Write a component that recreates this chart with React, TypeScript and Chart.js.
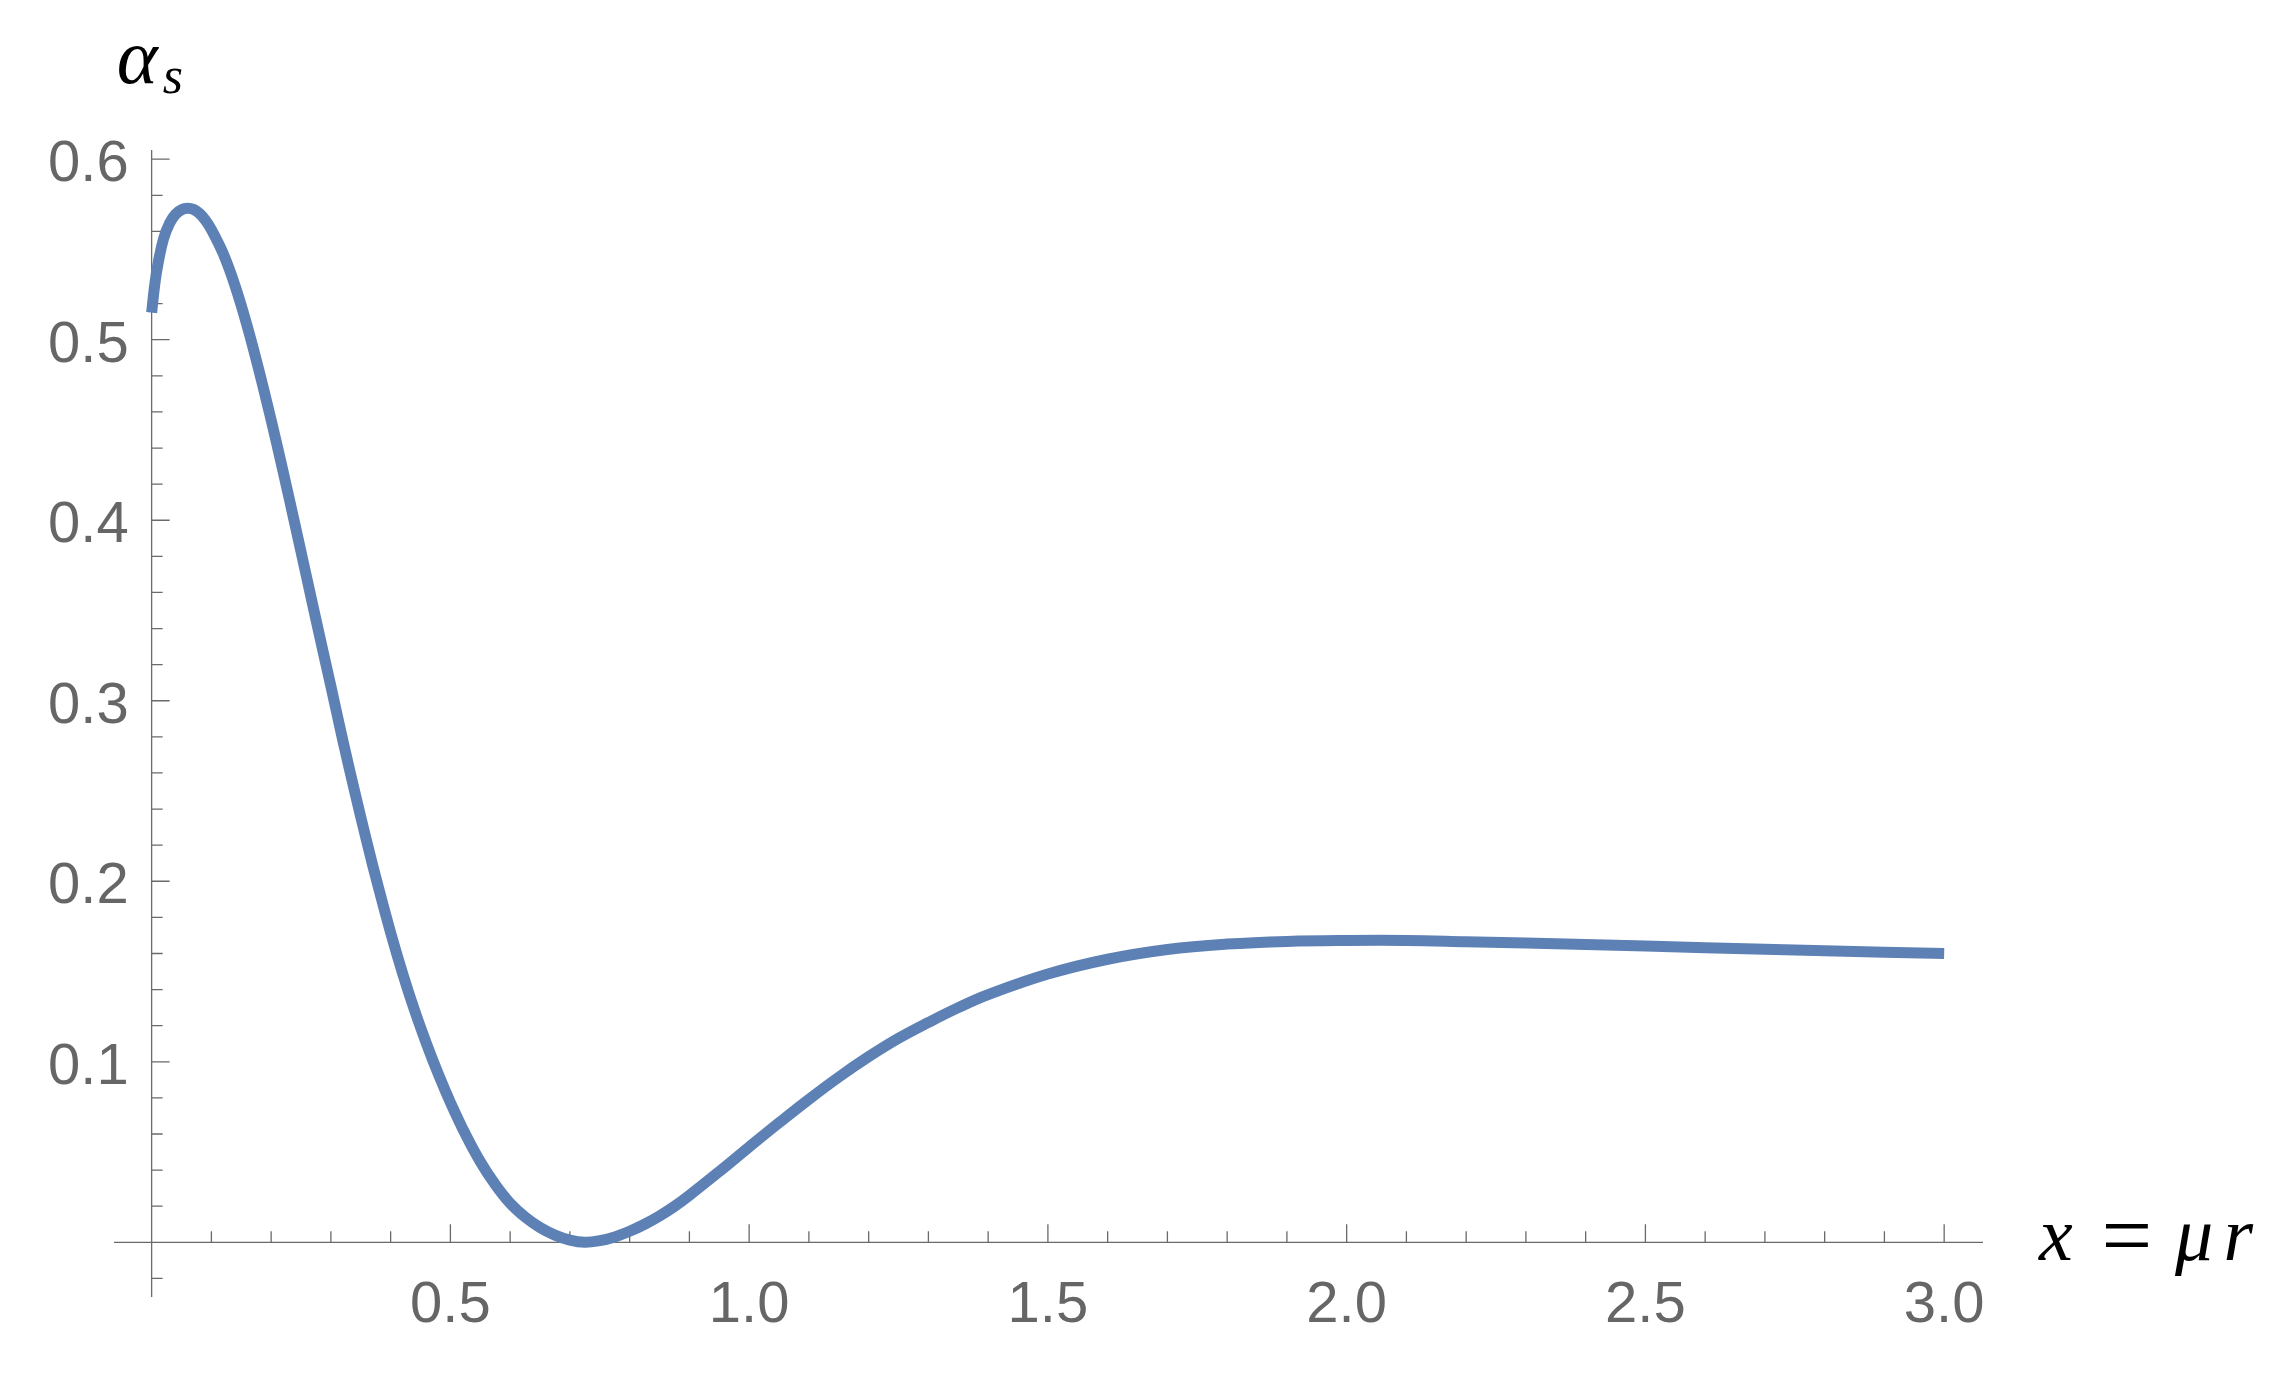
import { useEffect, useRef } from 'react';
import { Chart, registerables } from 'chart.js';

Chart.register(...registerables);

// ---- data ----
const xValues = [
  0, 0.005, 0.01, 0.02, 0.03, 0.04, 0.05, 0.06, 0.07, 0.08, 0.09, 0.1,
  0.12, 0.14, 0.16, 0.18, 0.2, 0.22, 0.24, 0.26, 0.28, 0.3,
  0.32, 0.34, 0.36, 0.38, 0.4, 0.42, 0.44, 0.46, 0.48, 0.5,
  0.525, 0.55, 0.575, 0.6, 0.625, 0.65, 0.675, 0.7, 0.725, 0.75,
  0.775, 0.8, 0.825, 0.85, 0.875, 0.9, 0.95, 1.0, 1.05, 1.1, 1.15, 1.2, 1.25, 1.3, 1.35, 1.4,
  1.5, 1.6, 1.7, 1.8, 1.9, 2.0, 2.1, 2.2, 2.4, 2.6, 2.8, 3.0,
];
const alphaS = [
  0.515, 0.530, 0.541, 0.556, 0.5645, 0.5695, 0.572, 0.5728, 0.5722, 0.570, 0.5662, 0.561,
  0.5475, 0.5295, 0.5075, 0.4825, 0.4555, 0.427, 0.3975, 0.3675, 0.3375, 0.308,
  0.278, 0.2495, 0.222, 0.196, 0.1715, 0.149, 0.1285, 0.11, 0.093, 0.0775,
  0.060, 0.0447, 0.032, 0.0216, 0.014, 0.0082, 0.004, 0.0012, 0.0, 0.0009,
  0.003, 0.0061, 0.010, 0.0146, 0.0199, 0.026, 0.0392, 0.0528, 0.0662, 0.0792, 0.0915, 0.1028, 0.113, 0.1218, 0.13, 0.1372,
  0.1486, 0.1568, 0.1622, 0.1652, 0.1667, 0.1672, 0.1672, 0.1665, 0.165, 0.1632, 0.1615, 0.16,
];
const xTickValues = [0.5, 1.0, 1.5, 2.0, 2.5, 3.0];
const xTickLabels = ['0.5', '1.0', '1.5', '2.0', '2.5', '3.0'];
const yTickValues = [0.1, 0.2, 0.3, 0.4, 0.5, 0.6];
const yTickLabels = ['0.1', '0.2', '0.3', '0.4', '0.5', '0.6'];
const xMinorStep = 0.1;
const yMinorStep = 0.02;

const X_MIN = -0.063;
const X_MAX = 3.065;
const Y_MIN = -0.0303;
const Y_MAX = 0.6051;

const LINE_COLOR = '#5E81B5';
const AXIS_COLOR = '#6a6a6a';
const TICK_TEXT = '#666666';
const SERIF = '"Liberation Serif", "DejaVu Serif", serif';

const axesPlugin = {
  id: 'mmaAxes',
  beforeDatasetsDraw(chart: any) {
    const ctx = chart.ctx as CanvasRenderingContext2D;
    const xs = chart.scales.x;
    const ys = chart.scales.y;
    const { left, right, top, bottom } = chart.chartArea;
    const x0 = xs.getPixelForValue(0);
    const y0 = ys.getPixelForValue(0);
    ctx.save();
    ctx.strokeStyle = AXIS_COLOR;
    ctx.lineWidth = 1.3;
    ctx.beginPath();
    ctx.moveTo(left, y0);
    ctx.lineTo(right, y0);
    ctx.moveTo(x0, top);
    ctx.lineTo(x0, bottom);
    ctx.stroke();

    // x ticks
    ctx.beginPath();
    for (let i = 1; i * xMinorStep <= X_MAX + 1e-9; i++) {
      const v = i * xMinorStep;
      const px = xs.getPixelForValue(v);
      const len = i % 5 === 0 ? 18 : 11;
      ctx.moveTo(px, y0);
      ctx.lineTo(px, y0 - len);
    }
    // y ticks
    for (let i = Math.ceil(Y_MIN / yMinorStep); i * yMinorStep <= Y_MAX + 1e-9; i++) {
      if (i === 0) continue;
      const v = i * yMinorStep;
      const py = ys.getPixelForValue(v);
      const len = i % 5 === 0 ? 18 : 11;
      ctx.moveTo(x0, py);
      ctx.lineTo(x0 + len, py);
    }
    ctx.stroke();

    // tick labels
    ctx.fillStyle = TICK_TEXT;
    ctx.font = '58px "Liberation Sans", Arial, sans-serif';
    ctx.textBaseline = 'alphabetic';
    ctx.textAlign = 'center';
    xTickValues.forEach((v, k) => {
      ctx.fillText(xTickLabels[k], xs.getPixelForValue(v), y0 + 80);
    });
    ctx.textAlign = 'right';
    yTickValues.forEach((v, k) => {
      ctx.fillText(yTickLabels[k], x0 - 23, ys.getPixelForValue(v) + 22);
    });

    // axis labels
    ctx.fillStyle = '#000000';
    ctx.textAlign = 'left';
    ctx.font = `italic 78px ${SERIF}`;
    ctx.fillText('α', x0 - 35, 83);
    ctx.font = `italic 52px ${SERIF}`;
    ctx.fillText('s', x0 + 11, 93);

    const lx = right + 56;
    const base = y0 + 18;
    ctx.font = `italic 76px ${SERIF}`;
    ctx.fillText('x', lx, base);
    ctx.font = `90px ${SERIF}`;
    ctx.textAlign = 'center';
    ctx.fillText('=', lx + 88, y0 + 24);
    ctx.textAlign = 'left';
    ctx.font = `italic 76px ${SERIF}`;
    ctx.fillText('μ', lx + 136, base);
    ctx.textAlign = 'right';
    ctx.fillText('r', lx + 214, base);
    ctx.restore();
  },
};

export default function App() {
  const canvasRef = useRef<HTMLCanvasElement | null>(null);

  useEffect(() => {
    const canvas = canvasRef.current;
    if (!canvas) return;
    const points = xValues.map((x, i) => ({ x, y: alphaS[i] }));
    const chart = new Chart(canvas, {
      type: 'line',
      data: {
        datasets: [
          {
            data: points,
            borderColor: LINE_COLOR,
            borderWidth: 11,
            pointRadius: 0,
            fill: false,
            tension: 0.4,
            borderCapStyle: 'butt',
            borderJoinStyle: 'round',
            clip: false as any,
          },
        ],
      },
      options: {
        animation: false,
        responsive: false,
        devicePixelRatio: 1,
        layout: { padding: { left: 114, right: 297, top: 150, bottom: 81 } },
        plugins: { legend: { display: false }, tooltip: { enabled: false } },
        events: [],
        scales: {
          x: { type: 'linear', min: X_MIN, max: X_MAX, display: false },
          y: { type: 'linear', min: Y_MIN, max: Y_MAX, display: false },
        },
      },
      plugins: [axesPlugin],
    });
    return () => chart.destroy();
  }, []);

  return (
    <div style={{ position: 'fixed', left: 0, top: 0, width: 2280, height: 1378, background: '#ffffff' }}>
      <canvas ref={canvasRef} width={2280} height={1378} style={{ width: 2280, height: 1378 }} />
    </div>
  );
}
